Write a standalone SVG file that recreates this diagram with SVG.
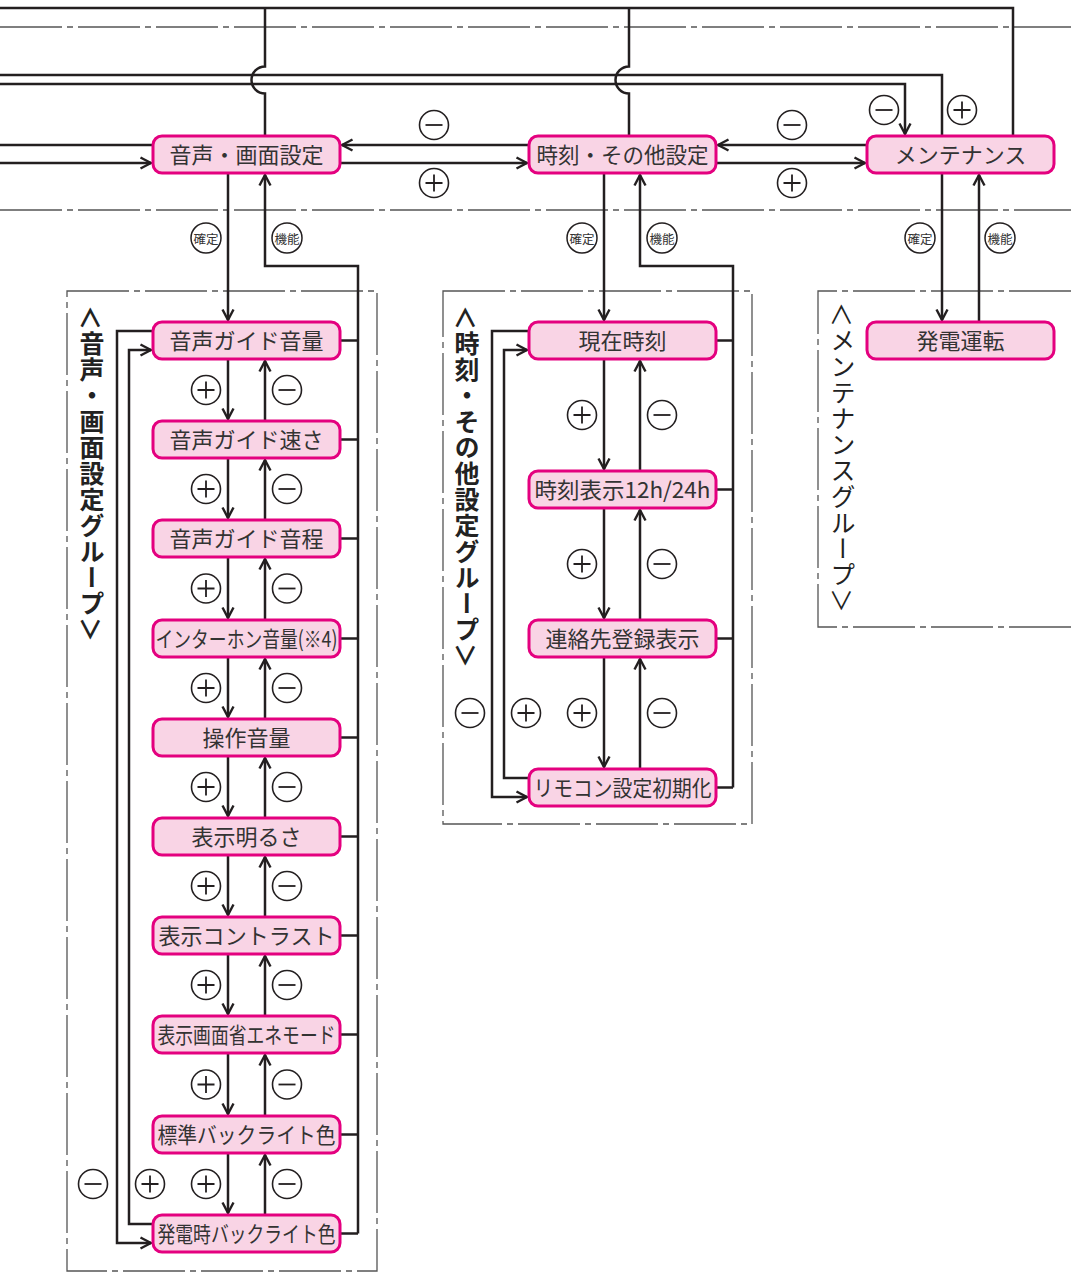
<svg xmlns="http://www.w3.org/2000/svg" xmlns:xlink="http://www.w3.org/1999/xlink" width="1071" height="1280" viewBox="0 0 1071 1280">
<style>
.bg{fill:#ffffff}
.node rect{fill:#f9d4e5;stroke:#e4007f;stroke-width:3}
.node text{font-family:'Noto Sans CJK JP','Noto Sans',sans-serif;font-size:22px;fill:#333;text-anchor:middle;dominant-baseline:central}
.ln{fill:none;stroke:#231f20;stroke-width:2.5}
.arr{marker-end:url(#ah)}
.dd{fill:none;stroke:#555;stroke-width:1.3;stroke-dasharray:62 5 6 5}
.glabel{font-family:'Noto Sans CJK JP','Noto Sans',sans-serif;font-size:25px;fill:#222;writing-mode:vertical-rl;letter-spacing:1px}
.btn circle{fill:#fff;stroke:#231f20;stroke-width:1.5}
.btn text{font-family:'Noto Sans CJK JP','Noto Sans',sans-serif;font-size:12.5px;fill:#333;text-anchor:middle;dominant-baseline:central}
.pm circle{fill:#fff;stroke:#231f20;stroke-width:1.6}
.pm path{fill:none;stroke:#231f20;stroke-width:1.8}
</style>
<defs>
<marker id="ah" markerUnits="userSpaceOnUse" viewBox="0 0 14 14" markerWidth="14" markerHeight="14" refX="12" refY="7" orient="auto">
<path d="M1.5,1.5 L12,7 L1.5,12.5" fill="none" stroke="#231f20" stroke-width="2.4" stroke-linejoin="miter"/>
</marker>
<g id="plus" class="pm"><circle r="14.5"/><path d="M-8.5,0H8.5M0,-8.5V8.5"/></g>
<g id="minus" class="pm"><circle r="14.5"/><path d="M-8.5,0H8.5"/></g>
</defs>
<rect class="bg" x="0" y="0" width="1071" height="1280"/>

<g id="frames">
<path class="dd" d="M0,27H1071"/>
<path class="dd" d="M0,210H1071"/>
<rect class="dd" x="67" y="291" width="310" height="980"/>
<rect class="dd" x="443" y="291" width="309" height="533"/>
<path class="dd" d="M1071,291H818V627H1071"/>
</g>

<g id="group-labels">
<text class="glabel" font-weight="bold" x="92" y="305">＜音声・画面設定グループ＞</text>
<text class="glabel" font-weight="bold" x="467" y="305">＜時刻・その他設定グループ＞</text>
<text class="glabel" x="843" y="302">＜メンテナンスグループ＞</text>
</g>

<g id="connectors">
<!-- top lines -->
<path class="ln" d="M0,8H1013V136"/>
<path class="ln" d="M265,8V66.5A13.5,13.5 0 0 0 265,93.5V136"/>
<path class="ln" d="M629,8V66.5A13.5,13.5 0 0 0 629,93.5V136"/>
<path class="ln" d="M0,75H942V136"/>
<path class="ln arr" d="M0,84H905V134"/>
<path class="ln" d="M0,145H153"/>
<path class="ln arr" d="M0,163H151"/>
<path class="ln arr" d="M529,145H342"/>
<path class="ln arr" d="M340,163H527"/>
<path class="ln arr" d="M867,145H718"/>
<path class="ln arr" d="M716,163H865"/>
<!-- group 1 -->
<path class="ln arr" d="M228,173V320"/>
<path class="ln arr" d="M358,1233.5V266H265V175"/>
<path class="ln" d="M340,340.5H358M340,439.5H358M340,538.5H358M340,638.5H358M340,737.5H358M340,836.5H358M340,935.5H358M340,1034.5H358M340,1134.5H358M340,1233.5H358"/>
<path class="ln arr" d="M228,359V419"/>
<path class="ln arr" d="M265,421V361"/>
<path class="ln arr" d="M228,458V518"/>
<path class="ln arr" d="M265,520V460"/>
<path class="ln arr" d="M228,557V618"/>
<path class="ln arr" d="M265,620V559"/>
<path class="ln arr" d="M228,657V717"/>
<path class="ln arr" d="M265,719V659"/>
<path class="ln arr" d="M228,756V816"/>
<path class="ln arr" d="M265,818V758"/>
<path class="ln arr" d="M228,855V915"/>
<path class="ln arr" d="M265,917V857"/>
<path class="ln arr" d="M228,954V1014"/>
<path class="ln arr" d="M265,1016V956"/>
<path class="ln arr" d="M228,1053V1114"/>
<path class="ln arr" d="M265,1116V1055"/>
<path class="ln arr" d="M228,1153V1213"/>
<path class="ln arr" d="M265,1215V1155"/>
<path class="ln arr" d="M153,331H117V1243H151"/>
<path class="ln arr" d="M153,1224H129V350H151"/>
<!-- group 2 -->
<path class="ln arr" d="M604,173V320"/>
<path class="ln arr" d="M733,787.5V266H640V175"/>
<path class="ln" d="M716,340.5H733M716,489.5H733M716,638.5H733M716,787.5H733"/>
<path class="ln arr" d="M604,359V469"/>
<path class="ln arr" d="M640,471V361"/>
<path class="ln arr" d="M604,508V618"/>
<path class="ln arr" d="M640,620V510"/>
<path class="ln arr" d="M604,657V767"/>
<path class="ln arr" d="M640,769V659"/>
<path class="ln arr" d="M529,331H492V797H527"/>
<path class="ln arr" d="M529,778H504V350H527"/>
<!-- group 3 -->
<path class="ln arr" d="M942,173V320"/>
<path class="ln arr" d="M979,322V175"/>
</g>

<g id="buttons">
<g class="btn"><circle cx="206" cy="238" r="15"/><text x="206" y="238">確定</text></g>
<g class="btn"><circle cx="287" cy="238" r="15"/><text x="287" y="238">機能</text></g>
<g class="btn"><circle cx="582" cy="238" r="15"/><text x="582" y="238">確定</text></g>
<g class="btn"><circle cx="662" cy="238" r="15"/><text x="662" y="238">機能</text></g>
<g class="btn"><circle cx="920" cy="238" r="15"/><text x="920" y="238">確定</text></g>
<g class="btn"><circle cx="1000" cy="238" r="15"/><text x="1000" y="238">機能</text></g>
</g>

<g id="signs">
<use href="#minus" x="434" y="125"/>
<use href="#plus" x="434" y="183"/>
<use href="#minus" x="792" y="125"/>
<use href="#plus" x="792" y="183"/>
<use href="#minus" x="884" y="110"/>
<use href="#plus" x="962" y="110"/>
<use href="#plus" x="206" y="390"/><use href="#minus" x="287" y="390"/>
<use href="#plus" x="206" y="489"/><use href="#minus" x="287" y="489"/>
<use href="#plus" x="206" y="588.5"/><use href="#minus" x="287" y="588.5"/>
<use href="#plus" x="206" y="688"/><use href="#minus" x="287" y="688"/>
<use href="#plus" x="206" y="787"/><use href="#minus" x="287" y="787"/>
<use href="#plus" x="206" y="886"/><use href="#minus" x="287" y="886"/>
<use href="#plus" x="206" y="985"/><use href="#minus" x="287" y="985"/>
<use href="#plus" x="206" y="1084.5"/><use href="#minus" x="287" y="1084.5"/>
<use href="#plus" x="206" y="1184"/><use href="#minus" x="287" y="1184"/>
<use href="#minus" x="93" y="1184"/><use href="#plus" x="150" y="1184"/>
<use href="#plus" x="582" y="415"/><use href="#minus" x="662" y="415"/>
<use href="#plus" x="582" y="564"/><use href="#minus" x="662" y="564"/>
<use href="#plus" x="582" y="713"/><use href="#minus" x="662" y="713"/>
<use href="#minus" x="470" y="713"/><use href="#plus" x="526" y="713"/>
</g>

<g id="n-onsei" class="node"><rect x="153" y="136" width="187" height="37" rx="9"/><text x="246.5" y="153">音声・画面設定</text></g>
<g id="n-jikoku" class="node"><rect x="529" y="136" width="187" height="37" rx="9"/><text x="622.5" y="153" textLength="172" lengthAdjust="spacingAndGlyphs">時刻・その他設定</text></g>
<g id="n-maint" class="node"><rect x="867" y="136" width="187" height="37" rx="9"/><text x="960.5" y="153">メンテナンス</text></g>

<g id="n-g1-1" class="node"><rect x="153" y="322" width="187" height="37" rx="9"/><text x="246.5" y="339">音声ガイド音量</text></g>
<g id="n-g1-2" class="node"><rect x="153" y="421" width="187" height="37" rx="9"/><text x="246.5" y="438">音声ガイド速さ</text></g>
<g id="n-g1-3" class="node"><rect x="153" y="520" width="187" height="37" rx="9"/><text x="246.5" y="537">音声ガイド音程</text></g>
<g id="n-g1-4" class="node"><rect x="153" y="620" width="187" height="37" rx="9"/><text x="246.5" y="637" textLength="182" lengthAdjust="spacingAndGlyphs">インターホン音量(※4)</text></g>
<g id="n-g1-5" class="node"><rect x="153" y="719" width="187" height="37" rx="9"/><text x="246.5" y="736">操作音量</text></g>
<g id="n-g1-6" class="node"><rect x="153" y="818" width="187" height="37" rx="9"/><text x="246.5" y="835">表示明るさ</text></g>
<g id="n-g1-7" class="node"><rect x="153" y="917" width="187" height="37" rx="9"/><text x="246.5" y="934" textLength="176" lengthAdjust="spacingAndGlyphs">表示コントラスト</text></g>
<g id="n-g1-8" class="node"><rect x="153" y="1016" width="187" height="37" rx="9"/><text x="246.5" y="1033" textLength="178" lengthAdjust="spacingAndGlyphs">表示画面省エネモード</text></g>
<g id="n-g1-9" class="node"><rect x="153" y="1116" width="187" height="37" rx="9"/><text x="246.5" y="1133" textLength="178" lengthAdjust="spacingAndGlyphs">標準バックライト色</text></g>
<g id="n-g1-10" class="node"><rect x="153" y="1215" width="187" height="37" rx="9"/><text x="246.5" y="1232" textLength="178" lengthAdjust="spacingAndGlyphs">発電時バックライト色</text></g>

<g id="n-g2-1" class="node"><rect x="529" y="322" width="187" height="37" rx="9"/><text x="622.5" y="339">現在時刻</text></g>
<g id="n-g2-2" class="node"><rect x="529" y="471" width="187" height="37" rx="9"/><text x="622.5" y="488" textLength="176" lengthAdjust="spacingAndGlyphs">時刻表示12h/24h</text></g>
<g id="n-g2-3" class="node"><rect x="529" y="620" width="187" height="37" rx="9"/><text x="622.5" y="637">連絡先登録表示</text></g>
<g id="n-g2-4" class="node"><rect x="529" y="769" width="187" height="37" rx="9"/><text x="622.5" y="786" textLength="178" lengthAdjust="spacingAndGlyphs">リモコン設定初期化</text></g>

<g id="n-g3-1" class="node"><rect x="867" y="322" width="187" height="37" rx="9"/><text x="960.5" y="339">発電運転</text></g>
</svg>
